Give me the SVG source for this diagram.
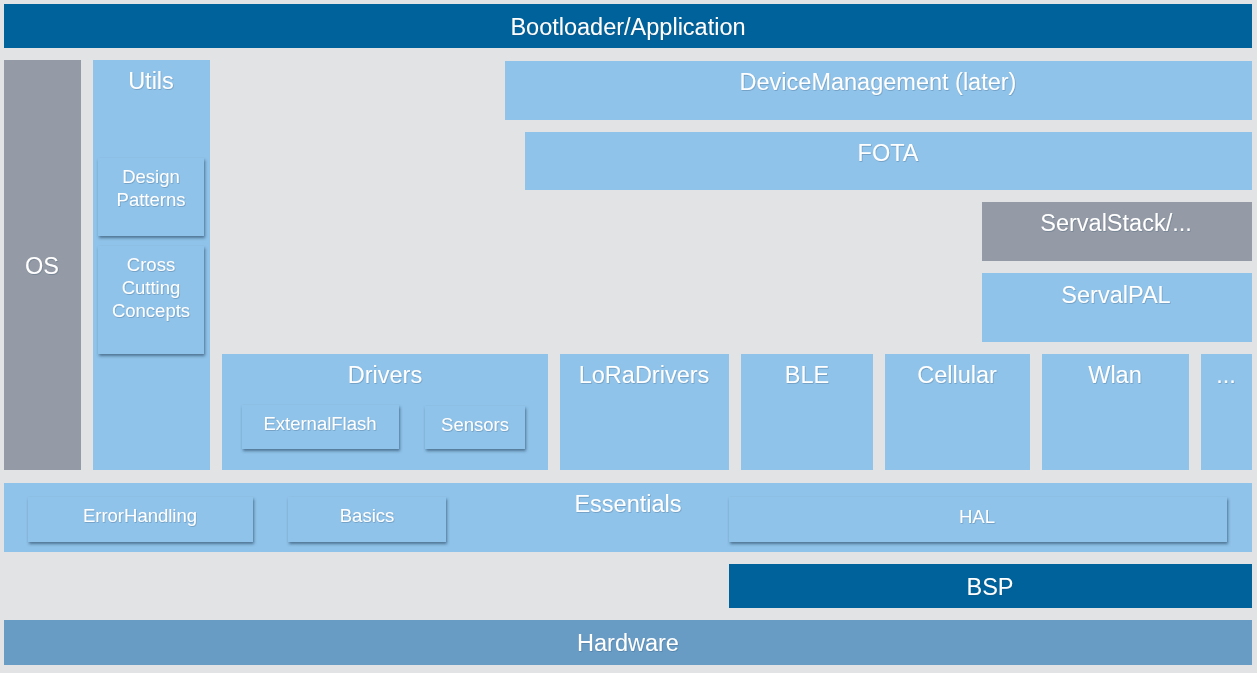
<svg xmlns="http://www.w3.org/2000/svg" width="1257" height="673" viewBox="0 0 1257 673">
  <defs>
    <filter id="raise" x="-10%" y="-20%" width="125%" height="150%">
      <feDropShadow dx="1" dy="2" stdDeviation="1.4" flood-color="#1d3a55" flood-opacity="0.6"/>
    </filter>
    <filter id="glow" x="-5%" y="-20%" width="110%" height="150%">
      <feDropShadow dx="0.6" dy="0.8" stdDeviation="0.6" flood-color="#2a4a66" flood-opacity="0.35"/>
    </filter>
  </defs>
  <style>
    .dark { fill: #00629b; }
    .light { fill: #90c3ea; }
    .gray { fill: #949ba6; }
    .hw { fill: #689cc5; }
    .sub { fill: #90c3ea; filter: url(#raise); }
    text { font-family: "Liberation Sans", Arial, sans-serif; fill: #ffffff; text-anchor: middle; filter: url(#glow); }
    .big { font-size: 23.5px; }
    .small { font-size: 18.5px; }
  </style>

  <rect width="1257" height="673" fill="#e1e3e5"/>

  <g id="bootloader-application">
    <rect class="dark" x="4" y="4" width="1248" height="44"/>
    <text class="big" x="628" y="35">Bootloader/Application</text>
  </g>

  <g id="os">
    <rect class="gray" x="4" y="60" width="77" height="410"/>
    <text class="big" x="42" y="274">OS</text>
  </g>

  <g id="utils">
    <rect class="light" x="93" y="60" width="117" height="410"/>
    <text class="big" x="151" y="89">Utils</text>
    <g id="design-patterns">
      <rect class="sub" x="98" y="158" width="106" height="78"/>
      <text class="small" x="151" y="183">Design</text>
      <text class="small" x="151" y="206">Patterns</text>
    </g>
    <g id="cross-cutting-concepts">
      <rect class="sub" x="98" y="246" width="106" height="108"/>
      <text class="small" x="151" y="271">Cross</text>
      <text class="small" x="151" y="294">Cutting</text>
      <text class="small" x="151" y="317">Concepts</text>
    </g>
  </g>

  <g id="device-management">
    <rect class="light" x="505" y="61" width="747" height="59"/>
    <text class="big" x="878" y="90">DeviceManagement (later)</text>
  </g>

  <g id="fota">
    <rect class="light" x="525" y="132" width="727" height="58"/>
    <text class="big" x="888" y="161">FOTA</text>
  </g>

  <g id="serval-stack">
    <rect class="gray" x="982" y="202" width="270" height="59"/>
    <text class="big" x="1116" y="231">ServalStack/...</text>
  </g>

  <g id="serval-pal">
    <rect class="light" x="982" y="273" width="270" height="69"/>
    <text class="big" x="1116" y="303">ServalPAL</text>
  </g>

  <g id="drivers">
    <rect class="light" x="222" y="354" width="326" height="116"/>
    <text class="big" x="385" y="383">Drivers</text>
    <g id="external-flash">
      <rect class="sub" x="242" y="405" width="157" height="44"/>
      <text class="small" x="320" y="430">ExternalFlash</text>
    </g>
    <g id="sensors">
      <rect class="sub" x="425" y="406" width="100" height="43"/>
      <text class="small" x="475" y="431">Sensors</text>
    </g>
  </g>

  <g id="lora-drivers">
    <rect class="light" x="560" y="354" width="169" height="116"/>
    <text class="big" x="644" y="383">LoRaDrivers</text>
  </g>

  <g id="ble">
    <rect class="light" x="741" y="354" width="132" height="116"/>
    <text class="big" x="807" y="383">BLE</text>
  </g>

  <g id="cellular">
    <rect class="light" x="885" y="354" width="145" height="116"/>
    <text class="big" x="957" y="383">Cellular</text>
  </g>

  <g id="wlan">
    <rect class="light" x="1042" y="354" width="147" height="116"/>
    <text class="big" x="1115" y="383">Wlan</text>
  </g>

  <g id="more-connectivity">
    <rect class="light" x="1201" y="354" width="51" height="116"/>
    <text class="big" x="1226" y="383">...</text>
  </g>

  <g id="essentials">
    <rect class="light" x="4" y="483" width="1248" height="69"/>
    <text class="big" x="628" y="512">Essentials</text>
    <g id="error-handling">
      <rect class="sub" x="28" y="497" width="225" height="45"/>
      <text class="small" x="140" y="522">ErrorHandling</text>
    </g>
    <g id="basics">
      <rect class="sub" x="288" y="497" width="158" height="45"/>
      <text class="small" x="367" y="522">Basics</text>
    </g>
    <g id="hal">
      <rect class="sub" x="729" y="497" width="498" height="45"/>
      <text class="small" x="977" y="523">HAL</text>
    </g>
  </g>

  <g id="bsp">
    <rect class="dark" x="729" y="564" width="523" height="44"/>
    <text class="big" x="990" y="595">BSP</text>
  </g>

  <g id="hardware">
    <rect class="hw" x="4" y="620" width="1248" height="45"/>
    <text class="big" x="628" y="651">Hardware</text>
  </g>

  <g id="connectors"/>
</svg>
